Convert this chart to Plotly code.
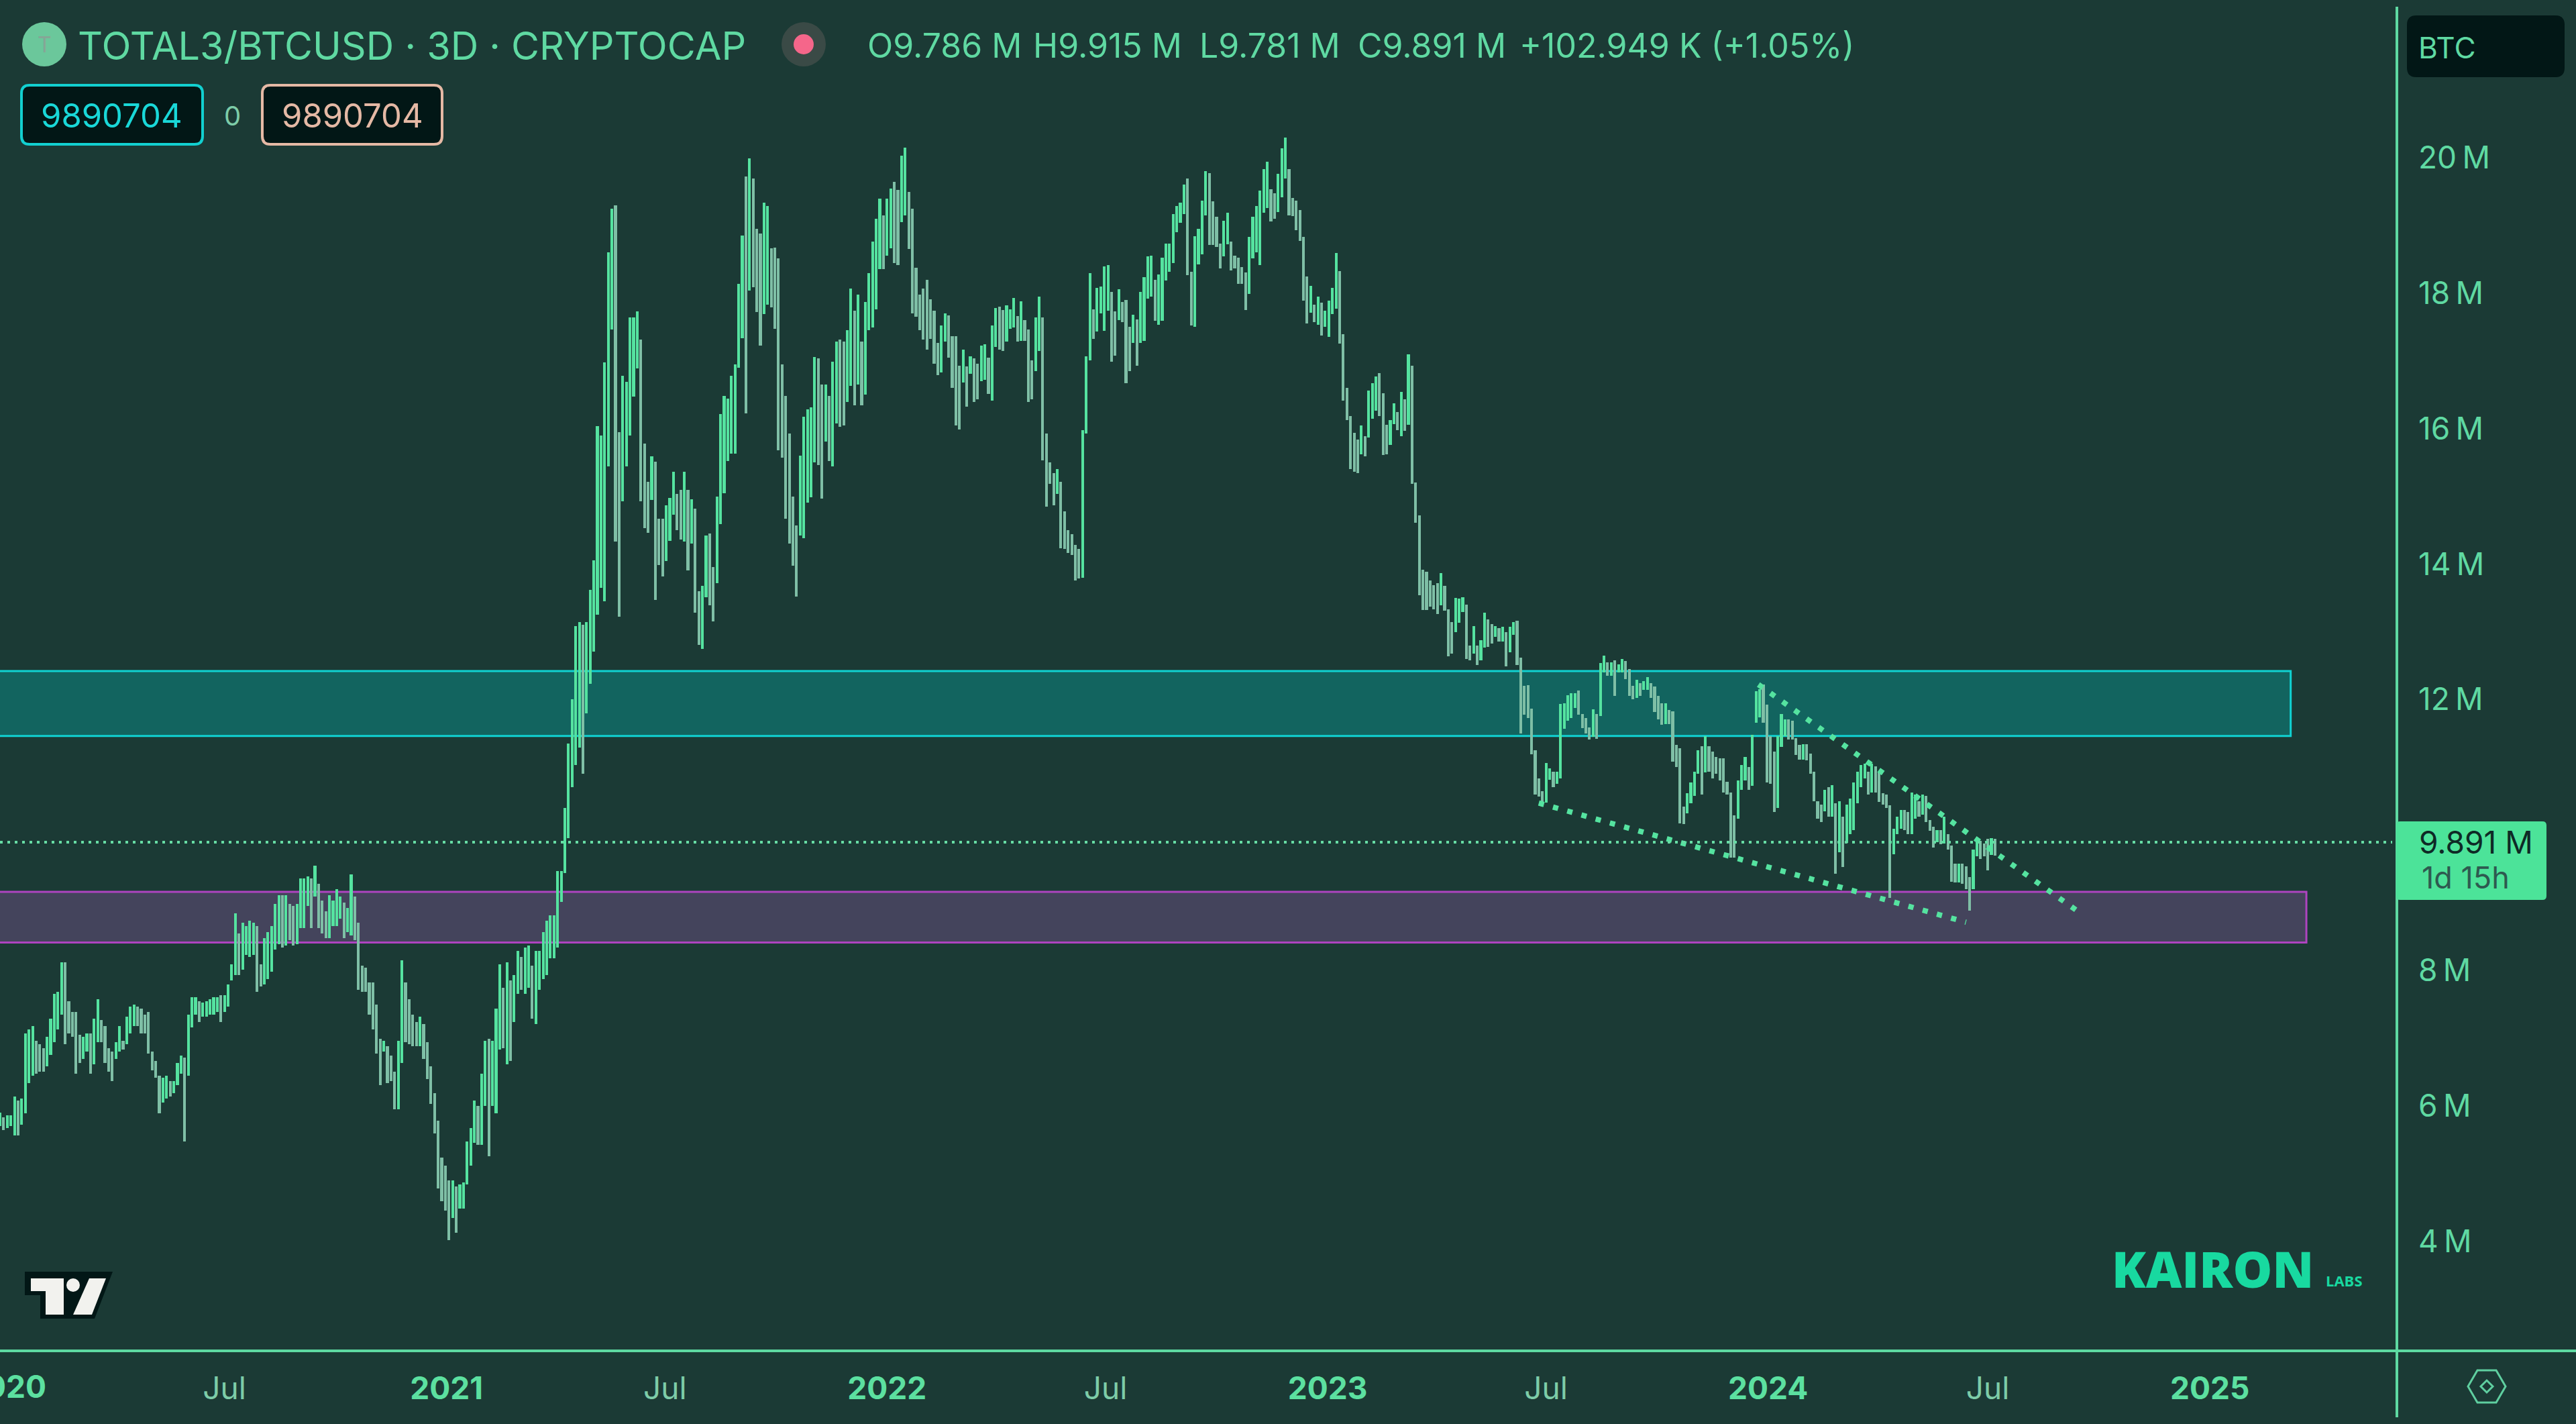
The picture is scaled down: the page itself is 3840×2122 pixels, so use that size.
import pandas as pd
import plotly.graph_objects as go

# 3D high/low bars in millions, oldest first
highs = [
    5.90, 5.83, 5.86, 5.86, 6.14, 6.08, 6.11, 7.07, 7.13, 7.18, 6.96, 6.91, 6.85, 7.02, 7.29, 7.65, 7.68,
    8.12, 8.12, 7.54, 7.38, 7.38, 7.05, 7.02, 7.07, 7.07, 7.29, 7.57, 7.27, 7.18, 6.85, 6.80, 6.94,
    7.18, 6.96, 7.32, 7.46, 7.49, 7.46, 7.43, 7.35, 7.38, 6.80, 6.66, 6.44, 6.41, 6.44, 6.36, 6.36,
    6.63, 6.74, 6.71, 7.35, 7.60, 7.60, 7.54, 7.52, 7.54, 7.57, 7.60, 7.60, 7.63, 7.63, 7.79, 8.09,
    8.84, 8.54, 8.70, 8.65, 8.73, 8.70, 8.65, 8.09, 8.48, 8.56, 8.65, 8.98, 9.11, 9.11, 9.11, 8.98,
    8.95, 8.98, 9.36, 9.36, 9.39, 9.36, 9.55, 9.28, 9.03, 8.87, 9.11, 9.03, 9.20, 9.09, 9.00, 8.92,
    9.42, 9.09, 8.70, 8.07, 8.04, 7.82, 7.82, 7.49, 6.99, 6.96, 6.88, 6.74, 6.50, 6.96, 8.15, 7.82,
    7.57, 7.35, 7.24, 7.32, 7.21, 6.94, 6.58, 6.19, 5.78, 5.23, 5.12, 4.90, 4.90, 4.81, 4.84, 4.87,
    5.47, 5.67, 6.08, 6.00, 6.47, 6.96, 6.99, 6.96, 7.43, 8.09, 7.74, 8.12, 7.85, 7.93, 8.29, 8.20,
    8.34, 8.37, 8.07, 8.29, 8.29, 8.56, 8.73, 8.81, 8.81, 9.47, 9.47, 10.40,
    11.35, 12.00, 13.08, 13.14, 13.10, 13.14, 13.62, 14.05, 16.04, 15.90, 16.98, 18.60, 19.25, 19.30,
    15.95, 16.78, 16.69, 17.64, 17.64, 17.73, 17.32, 15.78, 15.21, 15.59, 15.51, 14.67, 14.67, 14.87,
    14.98, 15.36, 15.04, 15.10, 15.36, 15.10, 14.96, 14.82, 13.60, 13.68, 14.42, 14.45, 13.96, 15.00,
    16.22, 16.48, 16.44, 16.78, 16.95, 18.14, 18.85, 19.72, 19.99, 19.69, 18.95, 18.88, 19.34,
    19.29, 18.66, 18.67, 18.51, 16.95, 16.48, 15.93, 15.00, 14.57, 15.60, 16.18, 16.28, 16.31, 17.06,
    17.04, 16.65, 16.65, 16.48, 16.99, 17.29, 17.32, 17.29, 17.45, 18.07, 17.74, 17.98, 17.29, 17.87,
    18.30, 18.76, 19.10, 19.40, 19.15, 19.40, 19.55, 19.64, 19.53, 20.03, 20.15, 19.50, 19.25, 18.38,
    17.98, 18.07, 18.20, 17.91, 17.74, 17.27, 17.52, 17.70, 17.67, 17.36, 17.36, 16.93, 17.17, 16.92,
    17.07, 17.04, 16.96, 17.23, 17.25, 17.05, 17.52, 17.78, 17.80, 17.75, 17.82, 17.76, 17.93, 17.66,
    17.88, 17.60, 17.46, 17.01, 17.64, 17.95, 17.64, 15.93, 15.50, 15.34, 15.40, 15.21, 14.78, 14.50,
    14.44, 14.28, 14.22, 15.98, 17.07, 18.30, 17.76, 18.08, 18.10, 18.40, 18.42, 18.02, 17.73, 18.06,
    17.87, 17.90, 17.50, 17.68, 17.61, 18.02, 18.24, 18.54, 18.55, 18.20, 18.28, 18.52, 18.73, 18.73,
    19.17, 19.29, 19.34, 19.60, 19.69, 18.32, 18.84, 18.95, 19.37, 19.80, 19.77, 19.36, 19.13, 18.73,
    19.07, 19.19, 18.76, 18.55, 18.52, 18.39, 18.31, 18.83, 19.13, 19.29, 19.52, 19.83, 19.94, 19.54,
    19.48, 19.76, 20.14, 20.30, 19.83, 19.41, 19.37, 19.23, 18.83, 18.25, 18.11, 17.83, 17.95, 17.86,
    17.74, 17.89, 18.08, 18.59, 18.33, 17.39, 16.60, 16.19, 15.94, 15.84, 16.05, 15.89, 16.56, 16.67,
    16.77, 16.82, 16.52, 16.06, 16.13, 16.37, 16.24, 16.54, 16.43, 17.10, 16.93, 15.20, 14.72, 13.92,
    13.89, 13.76, 13.69, 13.72, 13.87, 13.68, 13.33, 13.14, 13.50, 13.49, 13.51, 13.40, 12.80, 13.08,
    12.80, 12.88, 13.28, 13.18, 13.11, 13.08, 13.05, 13.07, 12.99, 13.07, 13.14, 13.16, 12.62, 12.20,
    12.21, 11.86, 11.25, 10.83, 10.65, 11.06, 10.98, 10.93, 10.93, 11.93, 11.94, 12.06, 12.09,
    12.09, 12.13, 11.79, 11.73, 11.59, 11.85, 11.79, 12.54, 12.65, 12.55, 12.55, 12.58, 12.52, 12.60,
    12.57, 12.45, 12.20, 12.29, 12.24, 12.27, 12.33, 12.24, 12.19, 12.05, 11.94, 11.94, 11.84, 11.82,
    11.33, 11.28, 10.42, 10.62, 10.77, 10.93, 11.25, 11.31, 11.46, 11.31, 11.23, 11.15, 11.13, 11.13,
    10.78, 10.63, 10.29, 10.80, 11.03, 11.15, 11.00, 11.48, 12.12, 12.15, 12.22, 11.92, 11.46, 11.23,
    11.46, 11.79, 11.71, 11.71, 11.69, 11.43, 11.33, 11.34, 11.34, 11.20, 10.93, 10.50, 10.45, 10.67,
    10.70, 10.73, 10.47, 10.50, 10.27, 10.45, 10.54, 10.77, 10.93, 11.03, 11.05, 10.93, 11.05, 11.01,
    10.93, 10.62, 10.60, 10.44, 10.09, 10.27, 10.37, 10.37, 10.34, 10.63, 10.60, 10.50, 10.60, 10.58,
    10.22, 10.12, 10.07, 10.07, 10.27, 10.01, 9.84, 9.58, 9.58, 9.58, 9.54, 9.38, 9.78, 9.92,
    9.91, 9.87, 9.94, 9.95, 9.94,
]
lows = [
    5.70, 5.64, 5.67, 5.70, 5.56, 5.56, 5.72, 5.89, 6.33, 6.44, 6.47, 6.50, 6.50, 6.58, 6.75, 6.94, 7.13,
    7.35, 6.91, 7.07, 7.02, 6.47, 6.63, 6.69, 6.80, 6.47, 6.61, 6.94, 6.94, 6.63, 6.50, 6.36, 6.69,
    6.80, 6.83, 6.91, 7.07, 7.18, 7.18, 7.07, 7.07, 6.77, 6.52, 6.41, 5.89, 6.05, 6.11, 6.14, 6.19,
    6.30, 6.47, 5.47, 6.44, 7.16, 7.35, 7.24, 7.32, 7.32, 7.35, 7.35, 7.38, 7.24, 7.38, 7.46, 7.85,
    7.93, 7.93, 8.01, 8.23, 8.20, 8.23, 7.68, 7.76, 7.79, 7.87, 7.98, 8.31, 8.39, 8.34, 8.37, 8.45,
    8.37, 8.39, 8.62, 8.62, 8.95, 8.62, 9.09, 8.62, 8.54, 8.48, 8.48, 8.65, 8.65, 8.76, 8.48, 8.56,
    8.51, 8.45, 7.71, 7.68, 7.68, 7.35, 7.13, 6.77, 6.30, 6.80, 6.33, 6.36, 5.95, 5.95, 6.63, 6.94,
    6.91, 6.88, 6.88, 6.88, 6.69, 6.39, 6.03, 5.59, 4.78, 4.59, 4.45, 4.02, 4.34, 4.12, 4.48, 4.48,
    4.84, 5.12, 5.45, 5.42, 5.42, 6.00, 5.25, 6.00, 5.89, 6.83, 6.85, 6.61, 6.66, 7.24, 7.65, 7.71,
    7.65, 7.74, 7.29, 7.21, 7.71, 7.87, 7.93, 8.18, 8.18, 8.34, 9.01, 9.44,
    9.95, 10.70, 11.03, 11.29, 10.90, 11.80, 12.23, 12.71, 13.25, 13.65, 13.45, 15.44, 17.46, 14.33,
    13.22, 14.93, 15.44, 15.90, 16.47, 16.89, 14.93, 14.53, 14.46, 14.95, 13.47, 13.99, 13.82, 14.04,
    14.34, 14.73, 14.50, 14.36, 14.33, 13.91, 14.30, 13.28, 12.81, 12.75, 13.51, 13.39, 13.15, 13.72,
    14.59, 15.05, 15.52, 15.63, 15.63, 16.90, 17.34, 16.23, 18.04, 18.09, 17.72, 17.23, 17.69,
    17.83, 17.79, 17.47, 15.68, 15.57, 14.67, 14.30, 13.98, 13.52, 14.42, 14.38, 14.91, 14.99, 15.50,
    15.46, 14.97, 15.81, 15.52, 15.44, 16.08, 16.03, 16.05, 16.39, 16.63, 16.34, 16.65, 16.34, 16.50,
    17.45, 17.49, 17.76, 18.36, 18.36, 18.55, 18.66, 18.45, 18.42, 19.05, 19.15, 18.65, 17.70, 17.65,
    17.45, 17.32, 17.17, 17.33, 16.96, 16.79, 16.83, 17.29, 17.05, 16.60, 16.05, 15.99, 16.68, 16.32,
    16.81, 16.39, 16.43, 16.70, 16.72, 16.51, 16.41, 17.21, 17.17, 17.15, 17.29, 17.47, 17.49, 17.29,
    17.30, 17.30, 16.39, 16.43, 16.85, 17.15, 15.53, 14.85, 15.18, 14.87, 15.04, 14.23, 14.22, 14.16,
    14.13, 13.76, 13.79, 13.80, 15.93, 17.01, 17.33, 17.43, 17.70, 17.44, 17.74, 16.99, 17.08, 17.60,
    17.57, 16.67, 16.85, 17.27, 16.93, 17.27, 17.30, 17.92, 17.95, 17.59, 17.53, 17.59, 18.19, 18.32,
    18.45, 18.90, 19.04, 19.17, 18.27, 17.52, 17.50, 18.43, 18.57, 19.15, 18.71, 18.71, 18.68, 18.37,
    18.54, 18.72, 18.34, 18.37, 18.14, 18.14, 17.75, 17.99, 18.51, 18.60, 18.42, 19.19, 19.26, 19.06,
    19.10, 19.20, 19.42, 19.69, 19.15, 19.14, 18.93, 18.77, 17.89, 17.55, 17.71, 17.57, 17.53, 17.37,
    17.50, 17.35, 17.69, 17.77, 17.26, 16.41, 16.13, 15.40, 15.36, 15.34, 15.62, 15.59, 15.87, 16.15,
    16.26, 16.19, 15.61, 15.62, 15.76, 16.07, 15.98, 15.89, 15.97, 16.06, 15.18, 14.61, 13.54, 13.32,
    13.32, 13.37, 13.33, 13.26, 13.39, 13.31, 12.64, 12.68, 12.99, 13.13, 13.29, 12.60, 12.58, 12.68,
    12.51, 12.58, 12.77, 12.78, 12.83, 12.92, 12.86, 12.86, 12.49, 12.70, 12.95, 12.51, 11.50, 11.78,
    11.73, 11.19, 10.60, 10.57, 10.42, 10.48, 10.81, 10.70, 10.75, 10.83, 11.57, 11.69, 11.73,
    11.87, 11.78, 11.58, 11.50, 11.41, 11.45, 11.42, 11.76, 12.40, 12.35, 12.35, 12.05, 12.40, 12.40,
    12.30, 12.05, 12.00, 12.02, 12.05, 12.14, 12.14, 12.02, 11.81, 11.71, 11.63, 11.64, 11.64, 11.08,
    11.00, 10.17, 10.16, 10.32, 10.47, 10.58, 10.90, 10.60, 10.92, 10.93, 10.83, 10.90, 10.80, 10.63,
    10.60, 9.66, 9.66, 10.24, 10.67, 10.80, 10.67, 10.72, 11.66, 11.74, 11.66, 10.77, 10.75, 10.34,
    10.40, 11.30, 11.46, 11.41, 11.41, 11.18, 11.11, 11.11, 11.10, 10.90, 10.50, 10.24, 10.19, 10.35,
    10.27, 10.27, 9.43, 9.74, 9.53, 9.88, 10.01, 10.07, 10.47, 10.70, 10.83, 10.60, 10.63, 10.63,
    10.49, 10.45, 10.40, 9.07, 9.71, 10.01, 10.09, 10.07, 10.01, 10.01, 10.24, 10.27, 10.30, 10.19,
    10.06, 9.81, 9.89, 9.86, 9.87, 9.78, 9.31, 9.30, 9.30, 9.28, 9.20, 8.88, 9.20, 9.68,
    9.64, 9.68, 9.48, 9.70, 9.69,
]
first_bar = "2019-12-28"

y_ticks = [20, 18, 16, 14, 12, 8, 6, 4]
x_ticks = ["2020-07-01", "2021-01-01", "2021-07-01", "2022-01-01", "2022-07-01",
           "2023-01-01", "2023-07-01", "2024-01-01", "2024-07-01", "2025-01-01"]
x_labels = ["Jul", "2021", "Jul", "2022", "Jul", "2023", "Jul", "2024", "Jul", "2025"]

teal_zone = [11.46, 12.42]
purple_zone = [8.41, 9.16]
last_price = 9.891
upper_x, upper_y = ["2023-12-24", "2024-09-13"], [12.22, 8.88]
lower_x, lower_y = ["2023-06-25", "2024-06-13"], [10.47, 8.71]

BG = "#1b3a35"
UP = "#55e3a0"
DOWN = "#7fbfa6"
TEXT = "#5fd9a2"
DARK = "#021716"
W, H = 3840, 2122
PLOT_W, PLOT_H = 3573, 2013


def px(x):
    return x / PLOT_W


def py(y):
    return 1 - y / PLOT_H


def box_path(x0, y0, x1, y1, r):
    pts = [("M", x0 + r, y0), ("L", x1 - r, y0), ("Q", x1, y0, x1, y0 + r), ("L", x1, y1 - r),
           ("Q", x1, y1, x1 - r, y1), ("L", x0 + r, y1), ("Q", x0, y1, x0, y1 - r), ("L", x0, y0 + r),
           ("Q", x0, y0, x0 + r, y0)]
    return poly_path(pts)


def poly_path(pts):
    out = ""
    for p in pts:
        nums = p[1:]
        coords = [f"{px(nums[k]):.5f},{py(nums[k + 1]):.5f}" for k in range(0, len(nums), 2)]
        out += p[0] + " ".join(coords) + " "
    return out + "Z"


def poly(points):
    return poly_path([("M" if k == 0 else "L", a, b) for k, (a, b) in enumerate(points)])


def deco(path, fill="rgba(0,0,0,0)", line=None, width=0):
    return dict(type="path", xref="paper", yref="paper", path=path, fillcolor=fill, layer="above",
                line=dict(color=line or "rgba(0,0,0,0)", width=width))


def dot(cx, cy, r, fill):
    return dict(type="circle", xref="paper", yref="paper", x0=px(cx - r), x1=px(cx + r), y0=py(cy + r),
                y1=py(cy - r), fillcolor=fill, line=dict(width=0), layer="above")


def label(x, y, text, size, color=TEXT, anchor="left", family="Inter", weight=400):
    return dict(xref="paper", yref="paper", x=px(x), y=py(y), text=text, showarrow=False, xanchor=anchor,
                yanchor="middle", font=dict(size=size, color=color, family=family, weight=weight))


dates = pd.date_range(first_bar, periods=len(highs), freq="3D")
mids = [(h + l) / 2 for h, l in zip(highs, lows)]
colors = [UP if k == 0 or mids[k] >= mids[k - 1] else DOWN for k in range(len(mids))]

fig = go.Figure()
fig.add_trace(go.Bar(
    x=dates,
    y=[h - l for h, l in zip(highs, lows)],
    base=lows,
    width=2.3 * 86400000,
    marker=dict(color=colors, line=dict(width=0)),
    hoverinfo="skip",
))
for xs, ys in [(upper_x, upper_y), (lower_x, lower_y)]:
    fig.add_trace(go.Scatter(x=xs, y=ys, mode="lines", hoverinfo="skip",
                             line=dict(color=UP, width=8, dash="8px,14px")))

shapes = [
    dict(type="rect", xref="x", yref="y", x0="2019-01-01", x1="2025-03-09", y0=teal_zone[0], y1=teal_zone[1],
         fillcolor="#12645f", line=dict(color="#10d2d2", width=3), layer="below"),
    dict(type="rect", xref="x", yref="y", x0="2019-01-01", x1="2025-03-22", y0=purple_zone[0], y1=purple_zone[1],
         fillcolor="#44445c", line=dict(color="#ae44c0", width=3), layer="below"),
    dict(type="line", xref="paper", yref="y", x0=0, x1=px(3566), y0=last_price, y1=last_price, layer="above",
         line=dict(color="#66dca4", width=4, dash="4px,7px")),
    # panel lines
    dict(type="line", xref="paper", yref="paper", x0=0, x1=px(W), y0=py(2013), y1=py(2013),
         line=dict(color="#5ed9a2", width=4), layer="above"),
    dict(type="line", xref="paper", yref="paper", x0=px(3573), x1=px(3573), y0=py(10), y1=py(2112),
         line=dict(color="#5ed9a2", width=4), layer="above"),
    # header
    dot(66, 66, 33, "#6bc79b"),
    dot(1198, 66, 33, "#3a4a46"),
    dot(1198, 66, 15, "#f5668a"),
    deco(box_path(32, 127, 302, 215, 12), DARK, "#12d0d0", 4),
    deco(box_path(391, 127, 659, 215, 12), DARK, "#e5b9a5", 4),
    deco(box_path(3588, 23, 3823, 115, 14), DARK),
    # last price tag
    deco(box_path(3572, 1224, 3796, 1341, 6), "#4ce399"),
    # tradingview mark
    deco(poly([(37, 1895), (168, 1895), (141, 1965), (60, 1965), (60, 1930), (37, 1930)]), DARK),
    deco(poly([(46, 1905), (95, 1905), (95, 1959), (68, 1959), (68, 1924), (46, 1924)]), "#f2f2ee"),
    deco(poly([(133, 1905), (158, 1905), (137, 1959), (109, 1959)]), "#f2f2ee"),
    dot(109, 1915, 10, "#f2f2ee"),
    # settings icon
    deco(poly([(3679, 2066), (3693, 2042), (3721, 2042), (3735, 2066), (3721, 2090), (3693, 2090)]),
         line="#5fcfa0", width=3),
    deco(poly([(3698, 2066), (3707, 2057), (3716, 2066), (3707, 2075)]), line="#5fcfa0", width=3),
]

annotations = [
    label(66, 66, "T", 32, "#86a596", "center"),
    label(114, 68, "TOTAL3/BTCUSD · 3D · CRYPTOCAP", 57.5),
    label(1291, 68, "O9.786 M", 50),
    label(1538, 68, "H9.915 M", 50),
    label(1786, 68, "L9.781 M", 50),
    label(2022, 68, "C9.891 M", 50),
    label(2263, 68, "+102.949 K (+1.05%)", 50),
    label(166, 172, "9890704", 49, "#19d8d8", "center"),
    label(346, 172, "0", 40, "#7dcca8", "center"),
    label(525, 172, "9890704", 49, "#e5b9a5", "center"),
    label(3603, 71, "BTC", 44),
    label(3604, 1255, "9.891 M", 46, "#0e2a26"),
    label(3608, 1307, "1d 15h", 45, "#2e5a50"),
    label(3146, 1890, "KAIRON", 74, "#18d9a0", family="Open Sans", weight=800),
    label(3465, 1908, "LABS", 22, "#18d9a0", family="Open Sans", weight=700),
    label(9, 2066, "<b>2020</b>", 46, "#5ce0a0", "center"),
]

year_style = "<b>{}</b>"
month_style = '<span style="color:#7dcca8">{}</span>'
tick_text = [year_style.format(t) if t.isdigit() else month_style.format(t) for t in x_labels]

fig.update_layout(
    width=W,
    height=H,
    margin=dict(l=0, r=W - PLOT_W, t=0, b=H - PLOT_H, pad=0),
    plot_bgcolor=BG,
    paper_bgcolor=BG,
    showlegend=False,
    bargap=0,
    shapes=shapes,
    annotations=annotations,
    font=dict(family="Inter", color=TEXT),
    xaxis=dict(
        range=["2019-12-28", "2025-06-05"],
        tickmode="array",
        tickvals=x_ticks,
        ticktext=tick_text,
        tickfont=dict(size=46, color="#5ce0a0", family="Inter"),
        showgrid=False,
        zeroline=False,
        showline=False,
        ticks="",
        ticklabelstandoff=25,
        automargin=False,
    ),
    yaxis=dict(
        range=[2.38, 22.33],
        side="right",
        tickmode="array",
        tickvals=y_ticks,
        ticktext=[f"{v}\u2009M" for v in y_ticks],
        tickfont=dict(size=46, color=TEXT, family="Inter"),
        showgrid=False,
        zeroline=False,
        showline=False,
        ticks="",
        ticklabelstandoff=31,
        automargin=False,
    ),
)

fig.write_html(
    "out.html",
    config={"displayModeBar": False},
    post_script="document.body.style.margin='0';document.body.style.overflow='hidden';",
)
